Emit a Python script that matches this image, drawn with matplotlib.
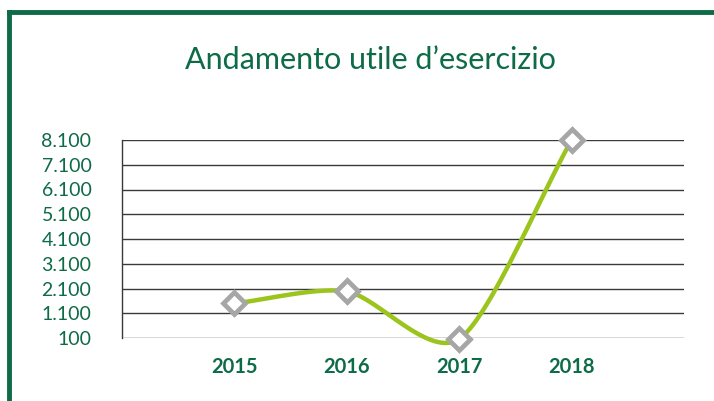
import matplotlib.pyplot as plt
import numpy as np
from matplotlib.lines import Line2D

years = ["2015", "2016", "2017", "2018"]
utile = [1500, 1980, 60, 8100]
y_ticks = [100, 1100, 2100, 3100, 4100, 5100, 6100, 7100, 8100]
y_labels = ["100", "1.100", "2.100", "3.100", "4.100", "5.100", "6.100", "7.100", "8.100"]

green = "#0d6b48"
line_col = "#9bc41c"
grey = "#a6a6a6"

plt.rcParams["font.family"] = ["Lato", "DejaVu Sans"]


def smooth(x, y, n=40, tension=0.4):
    # cardinal spline through the points, like the spreadsheet "smoothed line"
    x = np.asarray(x, float)
    y = np.asarray(y, float)
    px = np.concatenate([[2 * x[0] - x[1]], x, [2 * x[-1] - x[-2]]])
    py = np.concatenate([[2 * y[0] - y[1]], y, [2 * y[-1] - y[-2]]])
    xs, ys = [], []
    t = np.linspace(0, 1, n)
    h00 = 2 * t ** 3 - 3 * t ** 2 + 1
    h10 = t ** 3 - 2 * t ** 2 + t
    h01 = -2 * t ** 3 + 3 * t ** 2
    h11 = t ** 3 - t ** 2
    for i in range(1, len(px) - 2):
        for p, out in ((px, xs), (py, ys)):
            m1 = tension * (p[i + 1] - p[i - 1])
            m2 = tension * (p[i + 2] - p[i])
            out.extend(h00 * p[i] + h10 * m1 + h01 * p[i + 1] + h11 * m2)
    return np.array(xs), np.array(ys)


fig = plt.figure(figsize=(7.14, 4.01), dpi=100)
ax = fig.add_axes([122 / 714, 1 - 338 / 401, (684 - 122) / 714, (338 - 140) / 401])

x = np.arange(1, len(years) + 1)
sx, sy = smooth(x, utile)
ax.plot(sx, sy, color=line_col, lw=3.2, clip_on=False, zorder=3, solid_capstyle="round")
ax.plot(x, utile, ls="none", marker="D", markersize=11, markerfacecolor="white",
        markeredgecolor=grey, markeredgewidth=3.4, clip_on=False, zorder=4)

ax.set_xlim(0, 5)
ax.set_ylim(100, 8100)
ax.set_yticks(y_ticks)
ax.set_yticklabels(y_labels)
ax.set_xticks(x)
ax.set_xticklabels(years, fontweight="bold")
ax.tick_params(axis="y", length=0, pad=22, labelsize=14, labelcolor=green)
ax.tick_params(axis="x", length=0, pad=14, labelsize=14.5, labelcolor=green)
ax.yaxis.grid(True, color="#3a3a3a", lw=1)
ax.set_axisbelow(True)
for s in ["top", "right", "bottom"]:
    ax.spines[s].set_visible(False)
ax.spines["left"].set_color("#3a3a3a")
ax.spines["left"].set_linewidth(1)

fig.text(370 / 714, 1 - 60 / 401, "Andamento utile d\u2019esercizio", ha="center", va="center",
         fontsize=22, color=green)

# frame (top and left edges)
fig.add_artist(Line2D([9 / 714, 1], [1 - 12 / 401, 1 - 12 / 401], color=green, lw=3.5))
fig.add_artist(Line2D([9 / 714, 9 / 714], [0, 1 - 12 / 401], color=green, lw=3.5))

fig.savefig("out.png", dpi=100)
